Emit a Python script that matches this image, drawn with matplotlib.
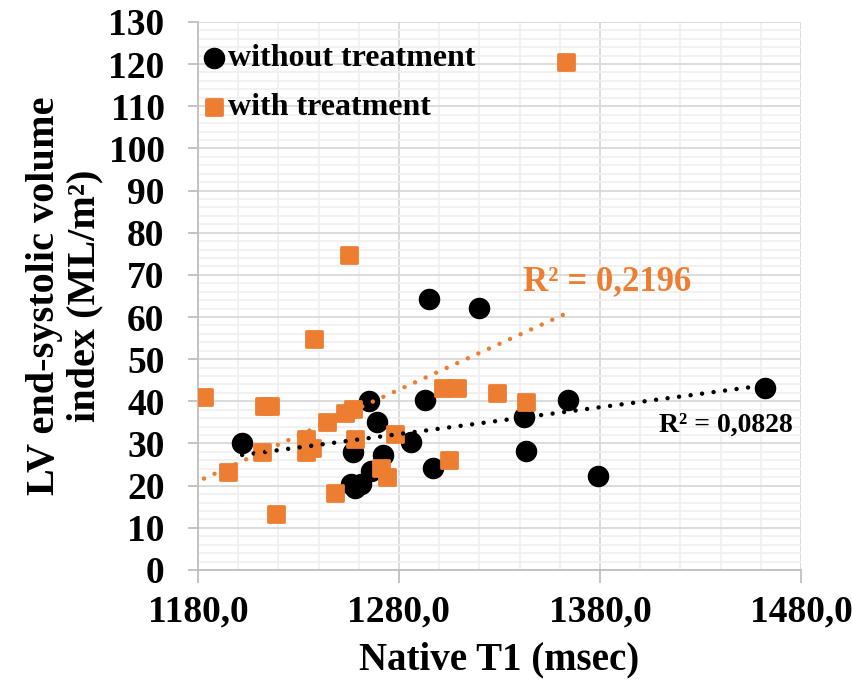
import numpy as np
import matplotlib
matplotlib.use("Agg")
import matplotlib.pyplot as plt
from matplotlib.markers import MarkerStyle
from matplotlib.ticker import FuncFormatter

# without treatment (black circles)
t1_without = [1202, 1257, 1265, 1269, 1272, 1266, 1256, 1258, 1261, 1286,
              1293, 1295, 1320, 1297, 1364, 1342, 1343, 1379, 1462]
lv_without = [30.2, 28.0, 40.0, 35.2, 27.2, 23.5, 20.3, 19.5, 20.5, 30.3,
              40.3, 64.2, 62.2, 24.2, 40.2, 36.3, 28.2, 22.3, 43.2]

# with treatment (orange squares)
t1_with = [1183, 1255, 1238, 1213, 1216, 1195, 1212, 1219, 1244, 1253,
           1257, 1234, 1234, 1237, 1258, 1248, 1271, 1274, 1278, 1302,
           1309, 1329, 1305, 1343, 1363]
lv_with = [41.0, 74.7, 54.8, 39.0, 39.0, 23.2, 28.1, 13.3, 35.0, 37.2,
           38.1, 31.1, 27.9, 28.9, 31.1, 18.2, 24.3, 22.0, 32.3, 43.1,
           43.1, 41.9, 26.1, 39.9, 120.5]

x_ticks = [1180, 1280, 1380, 1480]
r2_labels = ["R² = 0,0828", "R² = 0,2196"]

black = "black"
orange = "#ED7D31"

plt.rcParams["font.family"] = "Liberation Serif"
plt.rcParams["font.weight"] = "bold"
plt.rcParams["axes.labelweight"] = "bold"

fig = plt.figure(figsize=(8.53, 6.84), dpi=100)
ax = fig.add_axes([0.232, 0.1667, 0.707, 0.8013])

ax.set_xlim(1180, 1480)
ax.set_ylim(0, 130)
ax.set_xticks(x_ticks)
ax.set_xticks(np.arange(1180, 1481, 20), minor=True)
ax.set_yticks(np.arange(0, 131, 10))
ax.set_yticks(np.arange(0, 131, 2), minor=True)
ax.grid(which="major", color="#d9d9d9", lw=1.3)
ax.grid(which="minor", color="#f0f0f0", lw=1.3)
ax.set_axisbelow(True)

ax.xaxis.set_major_formatter(FuncFormatter(lambda v, p: f"{v:.1f}".replace(".", ",")))
ax.tick_params(which="minor", length=0)
ax.tick_params(which="major", length=7, color="#bfbfbf", width=1.3,
               labelsize=27)
ax.tick_params(axis="y", pad=17)
ax.tick_params(axis="x", length=9, pad=9)
for s in ["top", "right"]:
    ax.spines[s].set_visible(False)
for s in ["left", "bottom"]:
    ax.spines[s].set_color("#bfbfbf")
    ax.spines[s].set_linewidth(1.3)

sq = MarkerStyle("s", joinstyle="round")
ax.scatter(t1_without, lv_without, s=210, color=black, zorder=3,
           label="without treatment")
ax.scatter(t1_with, lv_with, s=140, marker=sq, color=orange, edgecolors=orange,
           linewidths=2, zorder=4, label="with treatment")

# linear trend lines
for xs, ys, c in [(t1_without, lv_without, black), (t1_with, lv_with, orange)]:
    xs = np.array(xs, float)
    k, b = np.polyfit(xs, ys, 1)
    xx = np.array([xs.min(), xs.max()])
    ax.plot(xx, k * xx + b, color=c, lw=3.2, ls=(0, (0.01, 2.6)),
            dash_capstyle="round", zorder=5)

ax.text(1476, 34.4, r2_labels[0], color=black, fontsize=20, ha="right",
        va="center", zorder=6)
ax.text(1383.5, 68.3, r2_labels[1], color=orange, fontsize=25, ha="center",
        va="center", zorder=6)

leg = ax.legend(loc="upper left", bbox_to_anchor=(-0.037, 0.995), frameon=False,
                prop={"size": 23, "weight": "bold"}, handletextpad=-0.15,
                borderaxespad=0.2, labelspacing=0.62, handlelength=1.2)

ax.set_xlabel("Native T1 (msec)", fontsize=28)
ax.xaxis.set_label_coords(0.5, -0.164)
ax.xaxis.label.set_va("center")
ax.set_ylabel("LV end-systolic volume\nindex (ML/m²)", fontsize=29,
              linespacing=1.1)
ax.yaxis.set_label_coords(-0.2206, 0.5)
ax.yaxis.label.set_va("center")

fig.savefig("out.png", dpi=100)
